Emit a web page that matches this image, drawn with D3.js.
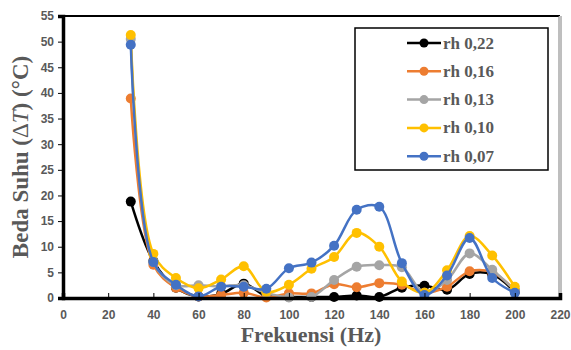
<!DOCTYPE html>
<html>
<head>
<meta charset="utf-8">
<script src="https://cdn.jsdelivr.net/npm/d3@7"></script>
<style>
  body { margin: 0; background: #fff; }
  svg { display: block; }
</style>
</head>
<body>
<div id="chart"></div>
<script>
// data
const frekuensi = [30, 40, 50, 60, 70, 80, 90, 100, 110, 120, 130, 140, 150, 160, 170, 180, 190, 200];
const rh022 = [18.8, 7.2, 2.0, 0.3, 0.8, 2.8, 0.4, 0.2, 0.2, 0.2, 0.5, 0.2, 2.0, 2.4, 1.6, 4.7, 4.6, 1.2];
const rh016 = [38.9, 6.5, 2.0, 0.3, 0.6, 1.0, 0.1, 0.9, 0.9, 2.7, 2.1, 2.9, 2.6, 1.0, 2.2, 5.2, 5.0, 1.5];
const rh013 = [50.5, 7.0, 2.5, 2.5, 2.3, 2.5, 1.0, 0.1, 0.2, 3.5, 6.1, 6.4, 6.0, 1.0, 3.5, 8.7, 5.5, 1.5];
const rh010 = [51.3, 8.6, 3.9, 1.9, 3.6, 6.2, 1.2, 2.6, 5.7, 8.0, 12.7, 10.0, 3.2, 1.0, 5.4, 12.1, 8.3, 2.2];
const rh007 = [49.4, 7.0, 2.6, 0.3, 2.2, 2.2, 1.8, 5.8, 6.9, 10.2, 17.2, 17.8, 6.8, 0.6, 4.4, 11.7, 3.9, 1.0];
const seriesNames = ['rh 0,22', 'rh 0,16', 'rh 0,13', 'rh 0,10', 'rh 0,07'];
const seriesColors = ['#000000', '#ED7D31', '#A5A5A5', '#FFC000', '#4472C4'];
const xTicks = [0, 20, 40, 60, 80, 100, 120, 140, 160, 180, 200, 220];
const yTicks = [0, 5, 10, 15, 20, 25, 30, 35, 40, 45, 50, 55];

const width = 571, height = 350;
const margin = { top: 16, right: 11, bottom: 52, left: 63 };
const labelColor = '#595959';

const svg = d3.select('#chart')
  .append('svg')
  .attr('width', width)
  .attr('height', height);

const x = d3.scaleLinear().domain([0, 220]).range([margin.left, width - margin.right]);
const y = d3.scaleLinear().domain([0, 55]).range([height - margin.bottom, margin.top]);

// frame: thin top, grey right
svg.append('line')
  .attr('x1', x(0)).attr('x2', x(220))
  .attr('y1', y(55)).attr('y2', y(55))
  .attr('stroke', '#000').attr('stroke-width', 2);
svg.append('line')
  .attr('x1', x(220)).attr('x2', x(220))
  .attr('y1', y(55)).attr('y2', y(0))
  .attr('stroke', '#7f7f7f').attr('stroke-width', 3);
svg.append('line')
  .attr('x1', x(220)).attr('x2', x(220))
  .attr('y1', y(55)).attr('y2', y(0))
  .attr('stroke', '#fff').attr('stroke-width', 1);

// series
const series = [rh022, rh016, rh013, rh010, rh007];
const line = d3.line()
  .x((d, i) => x(frekuensi[i]))
  .y(d => y(d))
  .curve(d3.curveCatmullRom.alpha(0.5));

series.forEach((vals, k) => {
  const g = svg.append('g');
  g.append('path')
    .datum(vals)
    .attr('d', line)
    .attr('fill', 'none')
    .attr('stroke', seriesColors[k])
    .attr('stroke-width', 2.5);
  g.selectAll('circle')
    .data(vals)
    .enter()
    .append('circle')
    .attr('cx', (d, i) => x(frekuensi[i]))
    .attr('cy', d => y(d))
    .attr('r', 5)
    .attr('fill', seriesColors[k]);
});

// axes
const xAxis = svg.append('g')
  .attr('transform', `translate(0,${y(0)})`)
  .call(d3.axisBottom(x).tickValues(xTicks).tickSize(-5).tickPadding(12).tickFormat(d3.format('d')));
const yAxis = svg.append('g')
  .attr('transform', `translate(${x(0)},0)`)
  .call(d3.axisLeft(y).tickValues(yTicks).tickSize(5).tickPadding(4).tickFormat(d3.format('d')));

[xAxis, yAxis].forEach(a => {
  a.select('.domain').attr('stroke', '#000').attr('stroke-width', 3.5);
  a.selectAll('.tick line').attr('stroke', '#000').attr('stroke-width', 1);
  a.selectAll('.tick text')
    .attr('fill', labelColor)
    .style('font-family', '"Liberation Sans", Arial, sans-serif')
    .style('font-weight', 'bold')
    .style('font-size', '12px');
});

// axis titles
svg.append('text')
  .attr('x', 311).attr('y', 342)
  .attr('text-anchor', 'middle')
  .attr('fill', labelColor)
  .style('font-family', '"Liberation Serif", "Times New Roman", serif')
  .style('font-weight', 'bold')
  .style('font-size', '22px')
  .text('Frekuensi (Hz)');

const yTitle = svg.append('text')
  .attr('transform', `translate(28,${157}) rotate(-90)`)
  .attr('text-anchor', 'middle')
  .attr('fill', labelColor)
  .style('font-family', '"Liberation Serif", "Times New Roman", serif')
  .style('font-weight', 'bold')
  .style('font-size', '23px');
yTitle.append('tspan').text('Beda Suhu (');
yTitle.append('tspan').style('font-weight', 'normal').text('Δ');
yTitle.append('tspan').style('font-style', 'italic').style('font-weight', 'normal').text('T');
yTitle.append('tspan').text(') (°C)');

// legend
const legend = svg.append('g').attr('transform', 'translate(355,28)');
legend.append('rect')
  .attr('width', 193).attr('height', 142)
  .attr('fill', '#fff')
  .attr('stroke', '#000').attr('stroke-width', 1.5);
seriesNames.forEach((name, k) => {
  const ly = 15 + k * 28.3;
  legend.append('line')
    .attr('x1', 52).attr('x2', 86).attr('y1', ly).attr('y2', ly)
    .attr('stroke', seriesColors[k]).attr('stroke-width', 2.5);
  legend.append('circle')
    .attr('cx', 69).attr('cy', ly).attr('r', 4.5)
    .attr('fill', seriesColors[k]);
  legend.append('text')
    .attr('x', 88).attr('y', ly + 5.5)
    .attr('fill', labelColor)
    .style('font-family', '"Liberation Serif", "Times New Roman", serif')
    .style('font-weight', 'bold')
    .style('font-size', '17px')
    .text(name);
});
</script>
</body>
</html>
